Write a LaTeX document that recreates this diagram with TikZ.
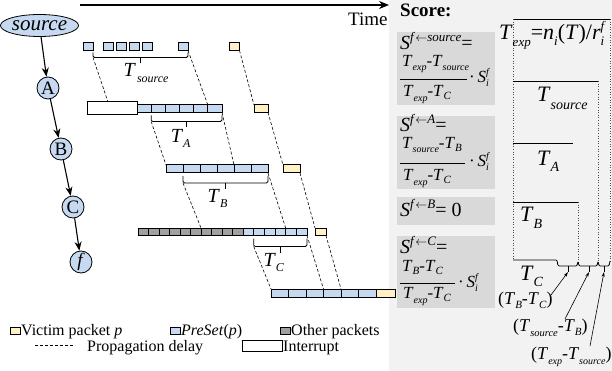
\documentclass[tikz,border=0pt]{standalone}
\usepackage{fontspec}
\setmainfont{Liberation Serif}
\usetikzlibrary{arrows.meta,shapes.geometric,calc}
\definecolor{pblue}{RGB}{198,217,241}
\definecolor{pyel}{RGB}{255,240,200}
\definecolor{pgray}{RGB}{160,160,160}
\definecolor{panel}{RGB}{242,242,242}
\definecolor{fbox}{RGB}{217,217,217}
\newcommand\fs[2]{{\fontsize{#1}{#1}\selectfont #2}}
\newcommand\lo[3]{\raisebox{#1}{\fontsize{#2}{#2}\selectfont\textit{#3}}}
\newcommand\Sif[2]{\fs{#1}{\textit{S}}\rlap{\lo{-4pt}{#2}{i}}\raisebox{7pt}{\fs{#2}{\textit{f}}}}
\begin{document}
\begin{tikzpicture}[x=1pt,y=-1pt,
  pkt/.style={draw,line width=1pt,inner sep=0,outer sep=0,anchor=north west},
  gnode/.style={circle,draw,line width=0.8pt,fill=pblue,minimum size=22pt,inner sep=0},
  garrow/.style={line width=1.1pt,-{Stealth[length=9pt,width=7pt]}},
  prop/.style={dash pattern=on 3pt off 2pt,line width=0.6pt},
  brk/.style={line width=0.8pt,rounded corners=1.5pt},
  txt/.style={inner sep=0,anchor=base west},
  dotv/.style={dotted,line width=0.6pt,black!70},
  solh/.style={line width=0.8pt},
  ptr/.style={line width=0.6pt,-{Stealth[length=5pt,width=3pt]}}
]
\useasboundingbox (0,0) rectangle (612,371);
\fill[panel] (389,0) rectangle (612,371);

% time axis
\coordinate (t0) at (80,5); \coordinate (t1) at (389,5);
\draw[line width=1.1pt,-{Stealth[length=10pt,width=8pt]}] (t0) -- (t1);
\node[txt] (time) at (348,26) {\fs{19}{Time}};

% path graph
\node[ellipse,draw,line width=0.8pt,fill=pblue,minimum width=65pt,minimum height=22pt,inner sep=0] (src) at (39.5,25.5) {\fs{21}{\textit{source}}};
\node[gnode] (A) at (48,88) {\fs{19}{A}};
\node[gnode] (B) at (61,149) {\fs{19}{B}};
\node[gnode] (C) at (73,207) {\fs{19}{C}};
\node[gnode] (F) at (81,262) {\fs{19}{\textit{f}}};
\draw[garrow] (src) -- (A);
\draw[garrow] (A) -- (B);
\draw[garrow] (B) -- (C);
\draw[garrow] (C) -- (F);

% row 1 (source)
\foreach \i/\x in {1/83,2/103,3/116,4/129,5/142,6/178}
  \node[pkt,fill=pblue,minimum width=10pt,minimum height=7.5pt] (ra\i) at (\x,43) {};
\node[pkt,fill=pyel,minimum width=10.5pt,minimum height=7.5pt] (ray) at (229,43) {};

% row 2 (A)
\node[pkt,fill=white,minimum width=50pt,minimum height=13pt] (intr) at (87,102) {};
\foreach \i in {0,...,5}
  \node[pkt,fill=pblue,minimum width=14.17pt,minimum height=7.5pt] (rb\i) at ({137+14.17*\i},105) {};
\node[pkt,fill=pyel,minimum width=14pt,minimum height=7.5pt] (rby) at (254,105) {};

% row 3 (B)
\foreach \i in {0,...,5}
  \node[pkt,fill=pblue,minimum width=17pt,minimum height=8pt] (rc\i) at ({166+17*\i},165) {};
\node[pkt,fill=pyel,minimum width=17pt,minimum height=8pt] (rcy) at (283,165) {};

% row 4 (C)
\foreach \i in {0,...,9}
  \node[pkt,fill=pgray,minimum width=10.5pt,minimum height=7.5pt] (rdg\i) at ({138+10.5*\i},228) {};
\foreach \i in {0,...,5}
  \node[pkt,fill=pblue,minimum width=10.67pt,minimum height=7.5pt] (rdb\i) at ({243+10.67*\i},228) {};
\node[pkt,fill=pyel,minimum width=11pt,minimum height=7.5pt] (rdy) at (315,228) {};

% row 5 (f)
\foreach \i in {0,...,5}
  \node[pkt,fill=pblue,minimum width=17.5pt,minimum height=8pt] (re\i) at ({271+17.5*\i},289) {};
\node[pkt,fill=pyel,minimum width=19pt,minimum height=8pt] (rey) at (376,289) {};

% brackets
\coordinate (bAl) at ($(ra1.south east)+(0,7)$);
\coordinate (bAr) at ($(ra6.south east)+(0,7)$);
\draw[brk] ($(ra1.south east)+(0,2)$) -- (bAl) -- (bAr) -- ($(ra6.south east)+(0,2)$);
\coordinate (kA) at ($(bAl)!0.5!(bAr)$);
\draw[brk] (kA) -- ++(0,6);
\node[txt] (lTs) at ($(kA)+(-17,19.5)$) {\fs{20}{\textit{T}}\kern1pt\lo{-6pt}{12}{source}};

\coordinate (bBl) at ($(rb1.south west)+(0,9)$);
\coordinate (bBr) at ($(rb5.south east)+(0,9)$);
\draw[brk] ($(rb1.south west)+(0,3)$) -- (bBl) -- (bBr) -- ($(rb5.south east)+(0,3)$);
\coordinate (kB) at ($(bBl)!0.5!(bBr)$);
\draw[brk] (kB) -- ++(0,6);
\node[txt] (lTa) at ($(kB)+(-16,21)$) {\fs{20}{\textit{T}}\lo{-5pt}{12}{A}};

\coordinate (bCl) at ($(rc1.south west)+(0,10)$);
\coordinate (bCr) at ($(rc5.south east)+(0,10)$);
\draw[brk] ($(rc1.south west)+(0,3)$) -- (bCl) -- (bCr) -- ($(rc5.south east)+(0,3)$);
\coordinate (kC) at ($(bCl)!0.5!(bCr)$);
\draw[brk] (kC) -- ++(0,6);
\node[txt] (lTb) at ($(kC)+(-18,20)$) {\fs{20}{\textit{T}}\lo{-5pt}{12}{B}};

\coordinate (bDl) at ($(rdb1.south west)+(0,11)$);
\coordinate (bDr) at ($(rdb5.south east)+(0,11)$);
\draw[brk] ($(rdb1.south west)+(0,3)$) -- (bDl) -- (bDr) -- ($(rdb5.south east)+(0,3)$);
\coordinate (kD) at ($(bDl)!0.5!(bDr)$);
\draw[brk] (kD) -- ++(0,6);
\node[txt] (lTc) at ($(kD)+(-17,20)$) {\fs{20}{\textit{T}}\lo{-5pt}{12}{C}};

% propagation delays
\draw[prop] (bAl) -- ($(intr.north west)!0.42!(intr.north east)$);
\draw[prop] (ra6.south east) -- (rb5.north west);
\draw[prop] (ray.south east) -- (rby.north west);
\draw[prop] (bBl) -- (rc0.north west);
\draw[prop] (rb5.south east) -- (rc4.north west);
\draw[prop] (rby.south east) -- (rcy.north west);
\draw[prop] (bCl) -- (rdg6.north west);
\draw[prop] (rc5.south east) -- (rdb4.north west);
\draw[prop] (rcy.south east) -- (rdy.north west);
\draw[prop] (bDl) -- (re0.north west);
\draw[prop] (rdb5.south east) -- (re3.north west);
\draw[prop] (rdy.south east) -- (re4.north west);

% score panel
\node[txt] (score) at (400,17) {\fs{19}{\textbf{Score:}}};
\fill[fbox] (397,32) rectangle (495,105);
\fill[fbox] (397,116) rectangle (495,189);
\fill[fbox] (397,197) rectangle (495,225);
\fill[fbox] (397,236) rectangle (495,308);

\node[txt] (s1) at (400,50) {\fs{20}{\textit{S}}\raisebox{8pt}{\fs{13}{\textit{f}$\leftarrow$\textit{source}}}\fs{20}{=}};
\node[txt] (n1) at (402,67) {\fs{17}{\textit{T}}\lo{-4pt}{10}{exp}\fs{17}{-\textit{T}}\lo{-4pt}{10}{source}};
\draw[line width=0.6pt] (400,79) -- (467,79);
\node[txt] (d1) at (403,97) {\fs{17}{\textit{T}}\lo{-5pt}{10}{exp}\fs{17}{-\textit{T}}\lo{-3pt}{11}{C}};
\node[txt] (m1) at (469,83) {\fs{17}{\textperiodcentered\,}\Sif{17}{10}};

\node[txt] (s2) at (400,132) {\fs{20}{\textit{S}}\raisebox{8pt}{\fs{13}{\textit{f}$\leftarrow$\textit{A}}}\fs{20}{=}};
\node[txt] (n2) at (402,149) {\fs{17}{\textit{T}}\lo{-4pt}{10}{source}\fs{17}{-\textit{T}}\lo{-3pt}{11}{B}};
\draw[line width=0.6pt] (400,163) -- (465,163);
\node[txt] (d2) at (403,181) {\fs{17}{\textit{T}}\lo{-5pt}{10}{exp}\fs{17}{-\textit{T}}\lo{-3pt}{11}{C}};
\node[txt] (m2) at (469,167) {\fs{17}{\textperiodcentered\,}\Sif{17}{10}};

\node[txt] (s3) at (400,216) {\fs{20}{\textit{S}}\raisebox{8pt}{\fs{13}{\textit{f}$\leftarrow$\textit{B}}}\fs{20}{= 0}};

\node[txt] (s4) at (400,253) {\fs{20}{\textit{S}}\raisebox{8pt}{\fs{13}{\textit{f}$\leftarrow$\textit{C}}}\fs{20}{=}};
\node[txt] (n4) at (402,271) {\fs{17}{\textit{T}}\lo{-3pt}{11}{B}\fs{17}{-\textit{T}}\lo{-3pt}{11}{C}};
\draw[line width=0.6pt] (400,283) -- (455,283);
\node[txt] (d4) at (403,298) {\fs{17}{\textit{T}}\lo{-5pt}{10}{exp}\fs{17}{-\textit{T}}\lo{-3pt}{11}{C}};
\node[txt] (m4) at (458,287) {\fs{17}{\textperiodcentered\,}\Sif{17}{10}};

% timeline diagram on the right
\draw[solh] (513,19) -- (610,19);
\draw[dotv] (513,19) -- (513,260);
\draw[dotv] (610,19) -- (610,262);
\draw[solh] (513,81) -- (598,81);
\draw[dotv] (598,81) -- (598,262);
\draw[solh] (513,143) -- (573,143);
\draw[solh] (513,202) -- (578,202);
\draw[dotv] (578,202) -- (578,262);
\draw[solh,rounded corners=1.2pt] (513,260) -- (557,260) -- (558,266) -- (577,266) -- (578,261) -- (579,266) -- (597,266) -- (598,261) -- (599,266) -- (609,266) -- (610,261);
\coordinate (k1) at (568,272); \coordinate (k2) at (589,272); \coordinate (k3) at (604,272);
\draw[solh] (568,266) -- (k1);
\draw[solh] (589,266) -- (k2);
\draw[solh] (604,266) -- (k3);

\node[txt] (rTe) at (499,40) {\fs{22}{\textit{T}}\lo{-7pt}{13}{exp}\fs{22}{=\textit{n}}\lo{-6pt}{13}{i}\fs{22}{(\textit{T})/\textit{r}}\rlap{\lo{-6pt}{13}{i}}\raisebox{9pt}{\fs{13}{\textit{f}}}};
\node[txt] (rTs) at (537,102) {\fs{22}{\textit{T}}\lo{-8pt}{14}{source}};
\node[txt] (rTa) at (537,166) {\fs{22}{\textit{T}}\lo{-6pt}{14}{A}};
\node[txt] (rTb) at (520,222) {\fs{22}{\textit{T}}\lo{-6pt}{14}{B}};
\node[txt] (rTc) at (520,280) {\fs{22}{\textit{T}}\lo{-6pt}{14}{C}};

\node[txt] (lbc) at (498,304) {\fs{18}{(\textit{T}}\lo{-4pt}{11}{B}\fs{18}{-\textit{T}}\lo{-4pt}{11}{C}\fs{18}{)}};
\node[txt] (lsb) at (513,331) {\fs{18}{(\textit{T}}\lo{-5pt}{10.5}{source}\fs{18}{-\textit{T}}\lo{-4pt}{11}{B}\fs{18}{)}};
\node[txt] (les) at (531,359) {\fs{18}{(\textit{T}}\lo{-5pt}{10}{exp}\fs{18}{-\textit{T}}\lo{-5pt}{10}{source}\fs{18}{)}};
\coordinate (a1) at (551,295);
\coordinate (a2) at (565,319);
\coordinate (a3) at (590,346);
\draw[ptr] (a1) -- (k1);
\draw[ptr] (a2) -- (k2);
\draw[ptr] (a3) -- (k3);

% legend
\node[pkt,fill=pyel,minimum width=10pt,minimum height=7.5pt] (ly) at (10,327) {};
\node[txt] (lyt) at (21,335) {\fs{16}{Victim packet \textit{p}}};
\node[pkt,fill=pblue,minimum width=10pt,minimum height=7.5pt] (lb) at (170,327) {};
\node[txt] (lbt) at (181,335) {\fs{16}{\textit{PreSet}(\textit{p})}};
\node[pkt,fill=pgray,minimum width=10pt,minimum height=7.5pt] (lg) at (280,327) {};
\node[txt] (lgt) at (291,335) {\fs{16}{Other packets}};
\coordinate (ld0) at (35,345); \coordinate (ld1) at (75,345);
\draw[prop] (ld0) -- (ld1);
\node[txt] (ldt) at (87,351) {\fs{16}{Propagation delay}};
\node[pkt,fill=white,minimum width=40pt,minimum height=11pt] (li) at (242,340) {};
\node[txt] (lit) at (283,351) {\fs{16}{Interrupt}};
\end{tikzpicture}
\end{document}
